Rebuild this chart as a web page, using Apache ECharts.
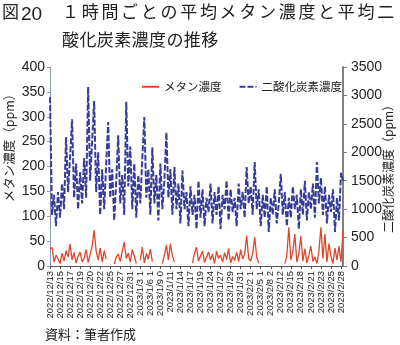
<!DOCTYPE html>
<html>
<head>
<meta charset="utf-8">
<script src="https://cdn.jsdelivr.net/npm/echarts@6/dist/echarts.min.js"></script>
<style>
  html, body { margin: 0; padding: 0; background: #fff; }
  #chart { width: 400px; height: 345px; }
</style>
</head>
<body>
<div id="chart"></div>
<script>
// Tick labels along the time axis (one every five samples)
var tickLabels = [
  '2022/12/13', '2022/12/15', '2022/12/17', '2022/12/19', '2022/12/20',
  '2022/12/22', '2022/12/25', '2022/12/27', '2022/12/31', '2023/1/3 1',
  '2023/1/6 1', '2023/1/9 0', '2023/1/11', '2023/1/14', '2023/1/17',
  '2023/1/19', '2023/1/24', '2023/1/27', '2023/1/29', '2023/1/31',
  '2023/2/2 1', '2023/2/5 1', '2023/2/8 2', '2023/2/12', '2023/2/15',
  '2023/2/18', '2023/2/21', '2023/2/23', '2023/2/25', '2023/2/28'
];

// Methane concentration (ppm), null where no measurement
var methane = [
  35, 37, 8, 22, 14, 5, 26, 10, 31, 18, 44, 12, 27, 6, 20, 28, 9, 15, 33, 7,
  24, 40, 72, 30, 12, 36, 8, 31, 14, null, null, null,
  4, 18, 24, 9, 30, 48, 15, 26, 8, 33, 20, 5, null,
  12, 38, 6, 25, 14, 34, 9, null, null, null, null,
  5, 22, 42, 12, 45, 20, 8, null, null, null, null, null, null, null, null,
  6, 26, 38, 10, 20, 30, 7, 18, 28, 12, 24, 5, 30, 15, 22, 8, 27, 13, 35, 6,
  19, 11, 28, 9, 33, 14, 24, 61, 15, 10, 25, 58, 18, 6,
  null, null, null, null, null, null, null, null, null, null, null, null,
  5, 20, 78, 12, 30, 64, 8, 25, 60, 10, 35, 6, 22, 40, 9, 18, 5, 30, 78, 15,
  64, 8, 45, 20, 5, 36, 12, 40, 8, 70
];

// Carbon dioxide concentration (ppm)
var co2 = [
  2970, 900, 1250, 700, 1300, 850, 1450, 1000, 2270, 1300,
  1900, 2580, 1200, 1800, 1000, 1650, 1100, 1900, 1200, 3150,
  1500, 2200, 2900, 1300, 2000, 900, 1700, 1000, 1800, 2530,
  1200, 1700, 800, 1500, 2300, 1100, 1600, 900, 2890, 1400,
  2100, 1000, 1800, 850, 1600, 1100, 1900, 2620, 1200, 1700,
  900, 2090, 1100, 1600, 800, 1800, 1000, 1500, 2350, 1200,
  1700, 900, 1740, 1000, 1450, 750, 1680, 1000, 1300, 700,
  1400, 900, 1250, 650, 1500, 850, 1350, 700, 1200, 950,
  1450, 750, 1300, 900, 1400, 650, 1250, 1000, 1500, 800,
  1350, 950, 1200, 700, 1450, 1000, 1300, 850, 1740, 1100,
  1400, 900, 1830, 1000, 1350, 700, 1250, 850, 1400, 600,
  1200, 900, 1350, 750, 1100, 1620, 900, 1300, 700, 1200,
  850, 1400, 1000, 1250, 650, 1350, 900, 1500, 800, 1300,
  1000, 1450, 850, 1830, 1100, 1550, 900, 1400, 750, 1250,
  950, 1350, 600, 1200, 800, 1640, 1500
];

var seriesNames = ['メタン濃度', '二酸化炭素濃度'];
var leftTicks = { min: 0, max: 400, step: 50 };
var rightTicks = { min: 0, max: 3500, step: 500 };

// One category per sample; only every fifth carries a date label
var categories = methane.map(function (_, i) {
  return i % 5 === 0 && tickLabels[i / 5] ? tickLabels[i / 5] : '';
});

var JP = '"Noto Sans CJK JP", sans-serif';
var LAT = '"Liberation Sans", Arial, sans-serif';

// Lay out a string one glyph at a time with a fixed pitch
function glyphRow(str, x0, pitch, y, size, font) {
  var out = [];
  Array.from(str).forEach(function (ch, k) {
    out.push({
      type: 'text', left: x0 + k * pitch, top: y,
      style: { text: ch, font: 'normal ' + size + 'px ' + font, fill: '#222' }
    });
  });
  return out;
}

var graphics = []
  .concat(glyphRow('図', 2, 19, 3, 17, JP))
  .concat([{
    type: 'text', left: 21, top: 5,
    style: { text: '20', font: 'normal 19px ' + LAT, fill: '#222' }
  }])
  .concat(glyphRow('１時間ごとの平均メタン濃度と平均二', 62, 19.7, 3, 17, JP))
  .concat(glyphRow('酸化炭素濃度の推移', 62, 17.4, 31, 17, JP));

graphics.push({
  type: 'text', x: 9, y: 145, rotation: Math.PI / 2,
  style: { text: 'メタン濃度（ppm）', font: 'normal 12.5px ' + JP, fill: '#222',
           align: 'center', verticalAlign: 'middle' }
});
graphics.push({
  type: 'text', x: 388, y: 166, rotation: Math.PI / 2,
  style: { text: '二酸化炭素濃度（ppm）', font: 'normal 12px ' + JP, fill: '#222',
           align: 'center', verticalAlign: 'middle' }
});
graphics.push({
  type: 'text', left: 45, top: 328,
  style: { text: '資料：筆者作成', font: 'normal 13px ' + JP, fill: '#222' }
});

var chart = echarts.init(document.getElementById('chart'), null, { renderer: 'canvas' });
chart.setOption({
  backgroundColor: '#fff',
  animation: false,
  graphic: graphics,
  legend: {
    left: 141, top: 81, padding: 0,
    itemWidth: 17, itemHeight: 8, itemGap: 17,
    itemStyle: { opacity: 0 },
    textStyle: { fontFamily: JP, fontSize: 11.5, color: '#222' },
    data: seriesNames
  },
  grid: { left: 50, right: 57, top: 67, bottom: 79, containLabel: false },
  xAxis: {
    type: 'category',
    data: categories,
    boundaryGap: false,
    axisLine: { lineStyle: { color: '#555', width: 1 } },
    axisTick: { interval: 4, length: 3, lineStyle: { color: '#555' } },
    axisLabel: {
      interval: 4, rotate: 90, margin: 5,
      fontFamily: LAT, fontSize: 9.5, color: '#222'
    },
    splitLine: { show: false }
  },
  yAxis: [
    {
      type: 'value', position: 'left',
      min: leftTicks.min, max: leftTicks.max, interval: leftTicks.step,
      axisLine: { show: true, lineStyle: { color: '#8c96b8', width: 1 } },
      axisTick: { show: true, length: 3, lineStyle: { color: '#8c96b8' } },
      axisLabel: { margin: 5, fontFamily: LAT, fontSize: 14, color: '#222' },
      splitLine: { show: false }
    },
    {
      type: 'value', position: 'right',
      min: rightTicks.min, max: rightTicks.max, interval: rightTicks.step,
      axisLine: { show: true, lineStyle: { color: '#808080', width: 2 } },
      axisTick: { show: true, length: 4, lineStyle: { color: '#808080' } },
      axisLabel: {
        margin: 8, fontFamily: LAT, fontSize: 14, color: '#222',
        formatter: function (v) { return String(v); }
      },
      splitLine: { show: false }
    }
  ],
  series: [
    {
      name: seriesNames[1], type: 'line', yAxisIndex: 1,
      data: co2, showSymbol: false, symbol: 'none',
      lineStyle: { color: '#353d98', width: 2, type: [6, 2] },
      itemStyle: { color: '#353d98' },
      z: 2
    },
    {
      name: seriesNames[0], type: 'line', yAxisIndex: 0,
      data: methane, showSymbol: false, symbol: 'none', connectNulls: false,
      lineStyle: { color: '#e0462a', width: 1.3 },
      itemStyle: { color: '#e0462a' },
      z: 3
    }
  ]
});
</script>
</body>
</html>
